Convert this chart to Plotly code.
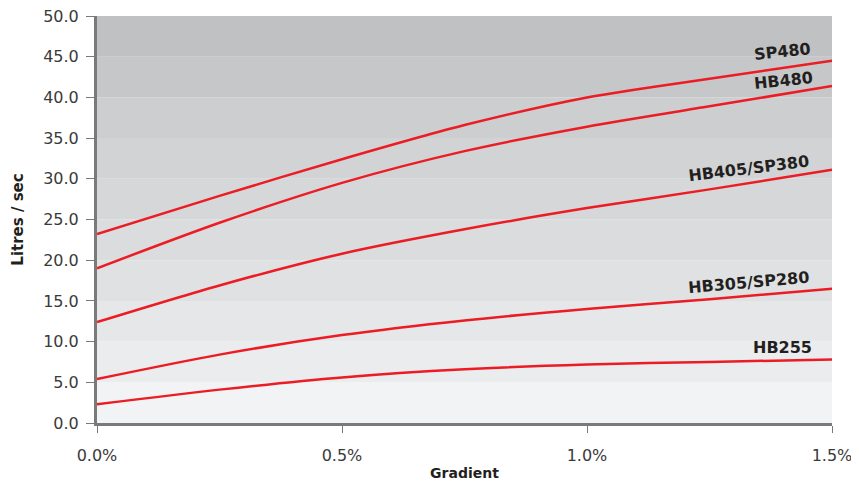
import plotly.graph_objects as go

# gradient (%) sample points
gradient = [0.0, 0.25, 0.5, 0.75, 1.0, 1.25, 1.5]

# flow (litres / sec)
sp480 = [23.2, 27.9, 32.4, 36.6, 40.0, 42.3, 44.5]
hb480 = [19.0, 24.6, 29.5, 33.4, 36.4, 38.9, 41.4]
hb405_sp380 = [12.4, 16.9, 20.8, 23.8, 26.4, 28.7, 31.1]
hb305_sp280 = [5.4, 8.4, 10.8, 12.6, 14.0, 15.2, 16.5]
hb255 = [2.3, 4.1, 5.6, 6.6, 7.2, 7.5, 7.8]

series_names = ["SP480", "HB480", "HB405/SP380", "HB305/SP280", "HB255"]
series_values = [sp480, hb480, hb405_sp380, hb305_sp280, hb255]

# label positions (gradient, litres/sec) and rotation
label_x = [1.399, 1.401, 1.329, 1.329, 1.399]
label_y = [45.7, 42.1, 31.3, 17.3, 9.3]
label_angle = [-6, -6, -7, -5, 0]

y_ticks = [0, 5, 10, 15, 20, 25, 30, 35, 40, 45, 50]
x_ticks = [0.0, 0.5, 1.0, 1.5]
x_tick_text = ["0.0%", "0.5%", "1.0%", "1.5%"]

# background band colours, bottom to top
band_colours = ["#f2f3f4", "#ebeced", "#e6e7e8", "#e0e1e2", "#dbdcdd",
                "#d6d7d8", "#d2d3d4", "#cdcecf", "#c6c7c9", "#c0c1c3"]

fig = go.Figure()

for name, vals in zip(series_names, series_values):
    fig.add_trace(go.Scatter(
        x=gradient, y=vals, mode="lines", name=name,
        line=dict(color="#ec1c24", width=2.5, shape="spline", smoothing=0.8),
        showlegend=False,
    ))

shapes = []
for i, c in enumerate(band_colours):
    shapes.append(dict(
        type="rect", xref="x", yref="y", x0=0, x1=1.5,
        y0=y_ticks[i], y1=y_ticks[i + 1],
        fillcolor=c, line=dict(width=0), layer="below",
    ))

annotations = []
for name, lx, ly, ang in zip(series_names, label_x, label_y, label_angle):
    annotations.append(dict(
        x=lx, y=ly, xref="x", yref="y", text="<b>" + name + "</b>",
        showarrow=False, textangle=ang,
        font=dict(family="DejaVu Sans", size=16, color="#231f20"),
    ))

# the page body adds an 8px margin, so the figure is sized to fill the rest
fig.update_layout(
    width=851, height=476,
    margin=dict(l=89, r=27, t=8, b=61),
    paper_bgcolor="white",
    plot_bgcolor="white",
    shapes=shapes,
    annotations=annotations,
    font=dict(family="DejaVu Sans", color="#333333"),
    xaxis=dict(
        range=[0, 1.5], tickvals=x_ticks, ticktext=x_tick_text,
        showgrid=False, zeroline=False, automargin=False,
        showline=True, linecolor="#7a7a7a", linewidth=3,
        ticks="outside", ticklen=7, tickcolor="#7a7a7a", tickwidth=1,
        ticklabelstandoff=9, ticklabeloverflow="allow",
        tickfont=dict(size=16, color="#3a3a3a"),
        title=dict(text="<b>Gradient</b>", standoff=4,
                   font=dict(size=14, color="#231f20")),
    ),
    yaxis=dict(
        range=[0, 50], tickvals=y_ticks, tickformat=".1f",
        showgrid=False, zeroline=False, automargin=False,
        showline=True, linecolor="#7a7a7a", linewidth=3,
        ticks="outside", ticklen=8, tickcolor="#7a7a7a", tickwidth=1,
        ticklabelstandoff=4, ticklabeloverflow="allow",
        tickfont=dict(size=16, color="#3a3a3a"),
        title=dict(text="<b>Litres / sec</b>", standoff=16,
                   font=dict(size=15, color="#231f20")),
    ),
)

fig.write_html("out.html")
